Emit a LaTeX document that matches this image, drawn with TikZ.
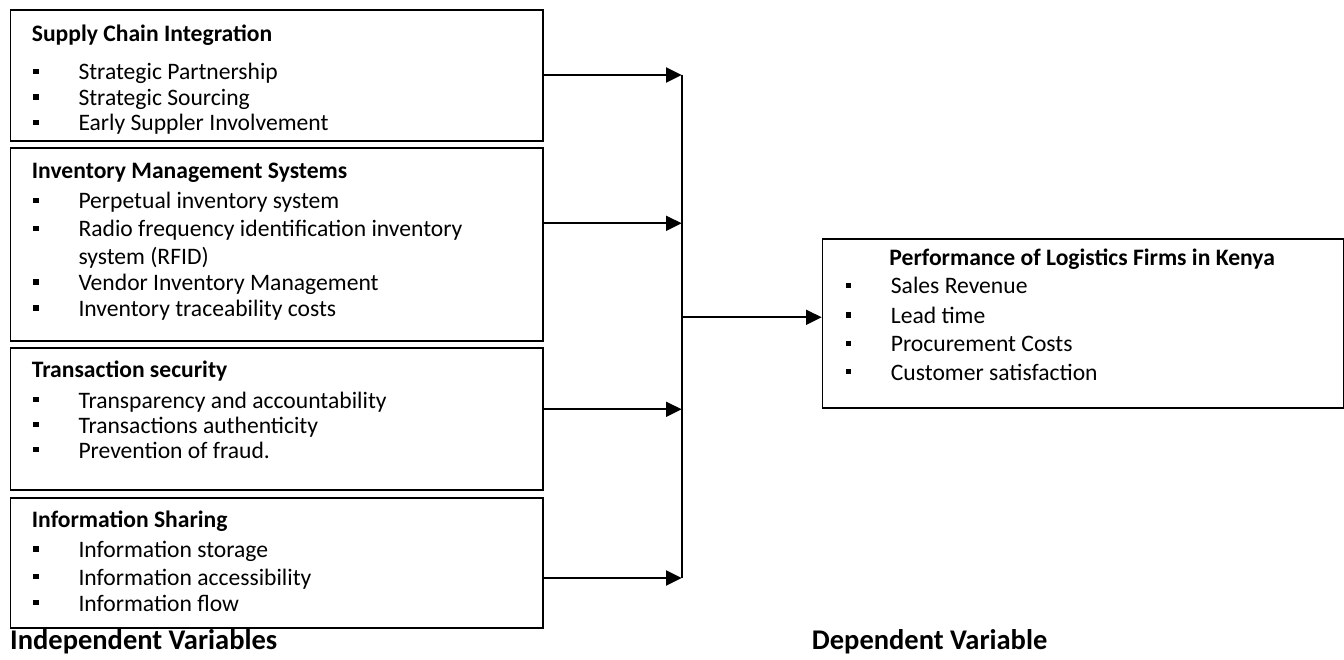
\documentclass[tikz,border=0pt]{standalone}
\usepackage{fontspec}
\setmainfont{Carlito}
\usetikzlibrary{arrows.meta}
\newcommand\bitem[5]{% name, bullet x, text x, baseline y, text
  \node[bul] (#1b) at (#2,#4-8.7) {};
  \node[txt] (#1) at (#3,#4) {#5};}
\begin{document}
\begin{tikzpicture}[x=1pt,y=-1pt,
  box/.style={draw, line width=1.6pt, inner sep=0pt, anchor=north west},
  txt/.style={anchor=base west, inner sep=0pt, font=\fontsize{23.6}{28}\selectfont},
  ttl/.style={anchor=base west, inner sep=0pt, font=\fontsize{23.6}{28}\selectfont\bfseries},
  bul/.style={fill, inner sep=0pt, minimum size=5.5pt},
  arr/.style={line width=2pt, -{Triangle[length=15.7pt,width=15pt]}},
  lbl/.style={anchor=base west, inner sep=0pt, font=\fontsize{28.5}{34}\selectfont\bfseries}]
\useasboundingbox (0,0) rectangle (1344,660);
% boxes
\node[box, minimum width=532.5pt, minimum height=131pt] (b1) at (9.5,9) {};
\node[box, minimum width=532.5pt, minimum height=193pt] (b2) at (9.5,147) {};
\node[box, minimum width=532.5pt, minimum height=142pt] (b3) at (9.5,347) {};
\node[box, minimum width=532.5pt, minimum height=130pt] (b4) at (9.5,497) {};
\node[box, minimum width=521pt, minimum height=169.3pt] (out) at (821.7,238) {};
% box 1
\node[ttl] (t1) at (31.7,41.7) {Supply Chain Integration};
\bitem{i11}{35.8}{78.3}{80}{Strategic Partnership}
\bitem{i12}{35.8}{78.3}{105.5}{Strategic Sourcing}
\begin{scope}
\clip (9.5,105) rectangle (542,134);
\bitem{i13}{35.8}{78.3}{131}{Early Suppler Involvement}
\end{scope}
% box 2
\node[ttl] (t2) at (31.7,178.5) {Inventory Management Systems};
\bitem{i21}{35.8}{78.3}{209}{Perpetual inventory system}
\bitem{i22}{35.8}{78.3}{237}{Radio frequency identification inventory}
\node[txt] (i22b2) at (78.3,265) {system (RFID)};
\bitem{i23}{35.8}{78.3}{290.5}{Vendor Inventory Management}
\bitem{i24}{35.8}{78.3}{316.5}{Inventory traceability costs}
% box 3
\node[ttl] (t3) at (31.7,377) {Transaction security};
\bitem{i31}{35.8}{78.3}{408}{Transparency and accountability}
\bitem{i32}{35.8}{78.3}{433}{Transactions authenticity}
\bitem{i33}{35.8}{78.3}{458}{Prevention of fraud.}
% box 4
\node[ttl] (t4) at (31.7,527) {Information Sharing};
\bitem{i41}{35.8}{78.3}{557.5}{Information storage}
\bitem{i42}{35.8}{78.3}{585}{Information accessibility}
\bitem{i43}{35.8}{78.3}{611}{Information flow}
% right box
\node[anchor=base, inner sep=0pt, font=\fontsize{23.6}{28}\selectfont\bfseries] (to) at (1082.2,266) {Performance of Logistics Firms in Kenya};
\bitem{o1}{848.5}{890.7}{294}{Sales Revenue}
\bitem{o2}{848.5}{890.7}{323.5}{Lead time}
\bitem{o3}{848.5}{890.7}{352}{Procurement Costs}
\bitem{o4}{848.5}{890.7}{380}{Customer satisfaction}
% labels
\node[lbl] (lin) at (10,649) {Independent Variables};
\node[lbl] (ldep) at (811.7,649) {Dependent Variable};
% connectors
\coordinate (j1) at (681.7,75);
\coordinate (j2) at (681.7,223.3);
\coordinate (j3) at (681.7,409.3);
\coordinate (j4) at (681.7,578);
\coordinate (jm) at (681.7,317.3);
\draw[arr] (b1.east |- j1) -- (j1);
\draw[arr] (b2.east |- j2) -- (j2);
\draw[arr] (b3.east |- j3) -- (j3);
\draw[arr] (b4.east |- j4) -- (j4);
\draw[line width=2pt] (j1) -- (j4);
\draw[arr] (jm) -- (out.west |- jm);
\end{tikzpicture}
\end{document}
